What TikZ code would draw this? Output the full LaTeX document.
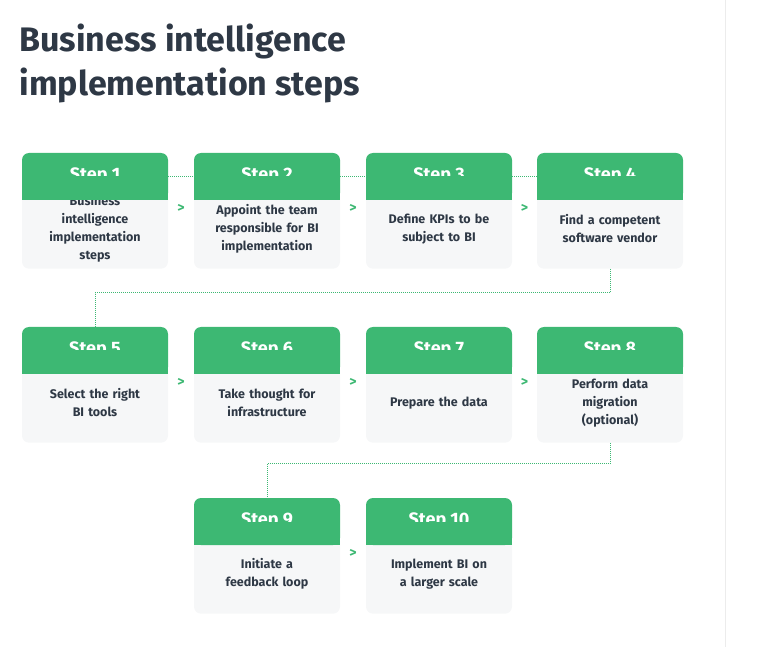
\documentclass[tikz,border=0pt]{standalone}
\usepackage{fontspec}
\setmainfont{Fira Sans}
\usetikzlibrary{positioning,calc}
\definecolor{stepgreen}{HTML}{3DB873}
\definecolor{cardgray}{HTML}{F6F7F8}
\definecolor{inkdark}{HTML}{2E3845}
\tikzset{
  head/.style={fill=stepgreen, text=white, minimum width=146pt, minimum height=47pt,
    rounded corners=7pt, font=\fontsize{18}{20}\selectfont\bfseries},
  body/.style={fill=cardgray, text=inkdark, minimum width=146pt, minimum height=80pt,
    text width=124pt, align=center, rounded corners=7pt,
    font=\fontsize{12.5}{18}\selectfont\bfseries},
  chev/.style={text=stepgreen, font=\fontsize{14}{14}\selectfont\bfseries},
  link/.style={stepgreen, densely dotted, line width=1pt}
}
\begin{document}
\begin{tikzpicture}[x=1pt,y=-1pt]
	\useasboundingbox (0,0) rectangle (764,647);
	\draw[gray!15, line width=1pt] (725,0) -- (725,647);
	\node[anchor=north west, align=left, text=inkdark,
	  font=\fontsize{34}{44}\selectfont\bfseries] (title) at (16,20)
	  {Business intelligence\\implementation steps};

	% cards: number/x/y of header centre/text
	\foreach \i/\x/\y/\txt in {
		1/95/176.5/{Business\\intelligence\\implementation\\steps},
		2/267/176.5/{Appoint the team\\responsible for BI\\implementation},
		3/439/176.5/{Define KPIs to be\\subject to BI},
		4/610/176.5/{Find a competent\\software vendor},
		5/95/350.5/{Select the right\\BI tools},
		6/267/350.5/{Take thought for\\infrastructure},
		7/439/350.5/{Prepare the data},
		8/610/350.5/{Perform data\\migration\\(optional)},
		9/267/521.5/{Initiate a\\feedback loop},
		10/439/521.5/{Implement BI on\\a larger scale}}
	{
		\node[body, anchor=north] (b\i) at (\x,\y+12) {\txt};
		\node[head] (h\i) at (\x,\y) {Step \i};
		\fill[stepgreen] (h\i.west) rectangle (h\i.south east);
	}
	\foreach \a/\b in {1/2,2/3,3/4,5/6,6/7,7/8,9/10}
		\node[chev] (c\a) at ($(b\a.east)!0.5!(b\b.west)+(0,-20)$) {>};
	\foreach \a/\b in {1/2,2/3,3/4}
		\draw[link] (h\a.east) -- (h\b.west);
	\draw[link] (b4.south) -- ++(0,24) -| (h5.north);
	\draw[link] (b8.south) -- ++(0,21) -| (h9.north);
\end{tikzpicture}
\end{document}
